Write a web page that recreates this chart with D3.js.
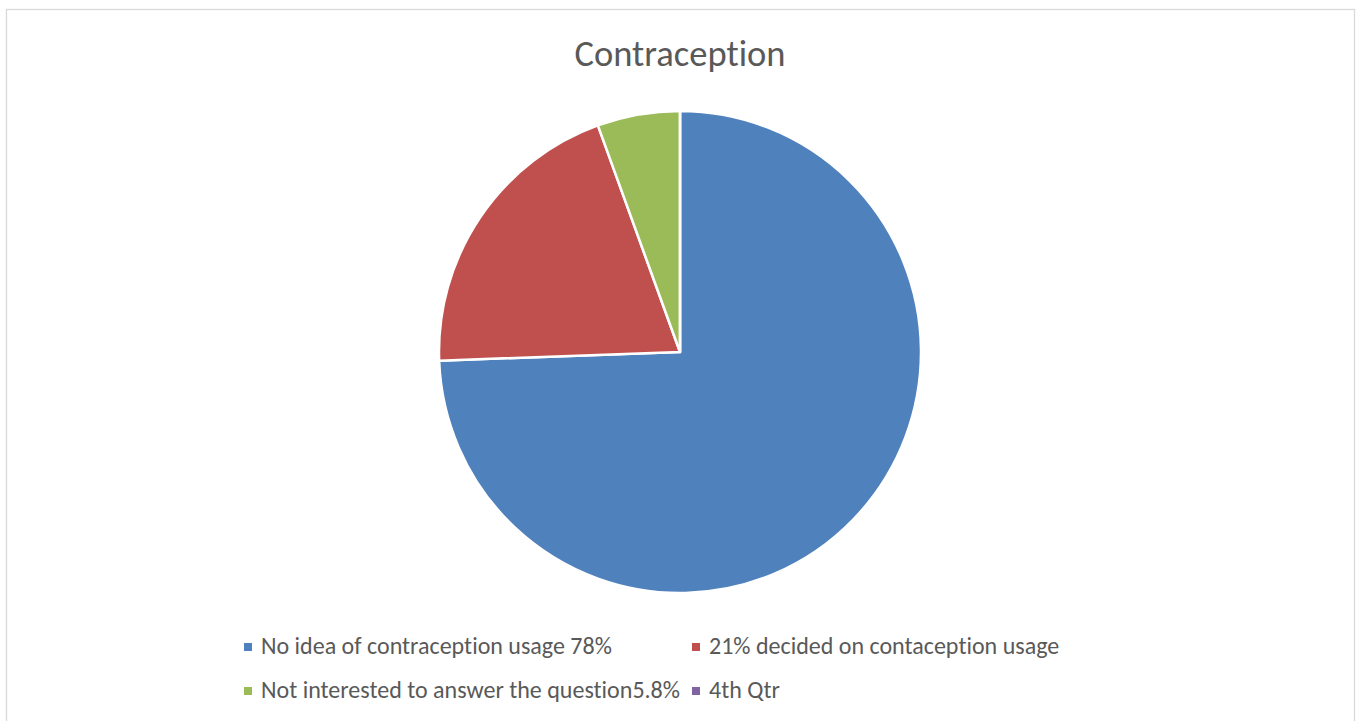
<!DOCTYPE html>
<html><head><meta charset="utf-8">
<script src="https://cdn.jsdelivr.net/npm/d3@7"></script>
<style>body{margin:0;background:#fff;} svg{display:block;font-family:Carlito,Calibri,"Open Sans",sans-serif;font-variant-ligatures:none;font-feature-settings:"liga" 0;}</style>
</head><body><svg id="c" width="1364" height="721"></svg>
<script>
const title = "Contraception";
const categories = ["No idea of contraception usage 78%", "21% decided on contaception usage", "Not interested to answer the question5.8%", "4th Qtr"];
const values = [78, 21, 5.8, 0];
const colors = ["#4F81BD", "#C0504D", "#9BBB59", "#8064A2"];

const svg = d3.select("#c");
svg.append("rect").attr("x",6.5).attr("y",9.5).attr("width",1348).attr("height",720)
  .attr("fill","#fff").attr("stroke","#d9d9d9").attr("stroke-width",1.3);

const t = svg.append("text").attr("x",680).attr("y",66).attr("text-anchor","middle")
  .attr("fill","#595959").attr("font-size",30).text(title);
const tw = t.node().getComputedTextLength();
t.attr("font-size", 30*211/tw);

const cx = 680, cy = 352, r = 241;
const pie = d3.pie().sort(null).value(d=>d)(values);
const arc = d3.arc().innerRadius(0).outerRadius(r);
svg.append("g").attr("transform",`translate(${cx},${cy})`)
  .selectAll("path").data(pie).join("path")
  .attr("d",arc).attr("fill",(d,i)=>colors[i])
  .attr("stroke","#fff").attr("stroke-width",2.5).attr("stroke-linejoin","round");

const pos = [[244,647],[692,647],[244,691],[692,691]];
const lg = svg.append("g");
categories.forEach((c,i)=>{
  const [x,y] = pos[i];
  lg.append("rect").attr("x",x).attr("y",y-4).attr("width",8).attr("height",8).attr("fill",colors[i]);
  lg.append("text").attr("x",x+17).attr("y",y+7).attr("fill","#595959").attr("font-size",20).text(c);
});
const w0 = lg.select("text").node().getComputedTextLength();
lg.selectAll("text").attr("font-size", 20*351/w0);
</script></body></html>
